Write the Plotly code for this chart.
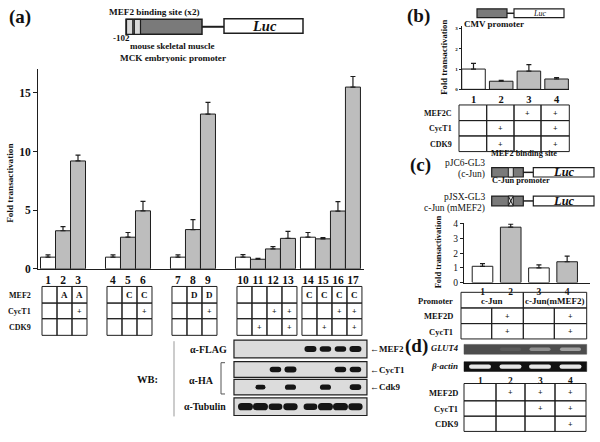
import plotly.graph_objects as go

W, H = 600, 442
FONT = "Liberation Serif"

# ---------------- data ----------------
lanes_a = [str(i) for i in range(1, 18)]
group_sizes_a = [3, 3, 3, 4, 4]
fold_a = [1.0, 3.25, 9.2, 1.0, 2.7, 4.95, 1.0, 3.35, 13.2, 1.0, 0.82, 1.7, 2.6, 2.7, 2.56, 4.93, 15.5]
err_a = [0.2, 0.35, 0.5, 0.2, 0.4, 0.8, 0.2, 0.85, 1.0, 0.22, 0.08, 0.2, 0.6, 0.4, 0.1, 0.8, 0.9]
mef2_a = ["", "A", "A", "", "C", "C", "", "D", "D", "", "", "", "", "C", "C", "C", "C"]
cyct1_a = ["", "", "+", "", "", "+", "", "", "+", "", "", "+", "+", "", "", "+", "+"]
cdk9_a = ["", "", "", "", "", "", "", "", "", "", "+", "", "+", "", "+", "", "+"]
rows_a = ["MEF2", "CycT1", "CDK9"]
ticks_a = [0, 5, 10, 15]

# western blot (lanes 10-17)
wb_labels = ["α-FLAG", "α-HA", "α-Tubulin"]
wb_targets = ["MEF2", "CycT1", "Cdk9"]
wb_flag = [0, 0, 0, 0, 1.0, 0.9, 0.9, 1.0]
wb_cyct1 = [0, 0, 0.9, 1.0, 0, 0, 0.9, 0.9]
wb_cdk9 = [0, 0.6, 0, 0.8, 0, 0.8, 0, 0.9]
wb_tub = [1.0, 1.0, 0.8, 0.9, 0.8, 1.0, 1.0, 0.9]

lanes_b = ["1", "2", "3", "4"]
fold_b = [1.0, 0.4, 0.9, 0.51]
err_b = [0.28, 0.04, 0.32, 0.07]
rows_b = ["MEF2C", "CycT1", "CDK9"]
mef2c_b = ["", "", "+", "+"]
cyct1_b = ["", "+", "", "+"]
cdk9_b = ["", "+", "", "+"]
ticks_b = [0, 1, 2, 3]

lanes_c = ["1", "2", "3", "4"]
fold_c = [1.11, 3.78, 1.0, 1.42]
err_c = [0.18, 0.2, 0.2, 0.38]
rows_c = ["Promoter", "MEF2D", "CycT1"]
promoter_c = ["c-Jun", "c-Jun(mMEF2)"]
mef2d_c = ["", "+", "", "+"]
cyct1_c = ["", "+", "", "+"]
ticks_c = [0, 1, 2, 3, 4]

lanes_d = ["1", "2", "3", "4"]
glut4_d = [0.0, 0.12, 0.55, 0.7]
actin_d = [1.0, 1.0, 1.0, 1.0]
rows_d = ["MEF2D", "CycT1", "CDK9"]
mef2d_d = ["", "+", "+", "+"]
cyct1_d = ["", "", "+", "+"]
cdk9_d = ["", "", "", "+"]

# ---------------- helpers ----------------
def X(px):
    return px / W


def Y(py):
    return 1 - py / H


shapes = []
anns = []
INK = "#1e1e1e"
GRAY = "#bdbdbd"


def rect(x0, y0, x1, y1, fill="rgba(0,0,0,0)", line=INK, lw=1):
    shapes.append(dict(type="rect", xref="paper", yref="paper", x0=X(x0), x1=X(x1),
                       y0=Y(y1), y1=Y(y0), fillcolor=fill, line=dict(color=line, width=lw)))


def seg(x0, y0, x1, y1, color=INK, lw=1):
    shapes.append(dict(type="line", xref="paper", yref="paper", x0=X(x0), x1=X(x1),
                       y0=Y(y0), y1=Y(y1), line=dict(color=color, width=lw)))


def rrect(cx, cy, w, h, color):
    x0, x1, y0, y1 = cx - w / 2, cx + w / 2, cy - h / 2, cy + h / 2
    r = min(h / 2, w / 2)
    pts = [("M", [(x0 + r, y0)]), ("L", [(x1 - r, y0)]), ("Q", [(x1, y0), (x1, y0 + r)]),
           ("L", [(x1, y1 - r)]), ("Q", [(x1, y1), (x1 - r, y1)]), ("L", [(x0 + r, y1)]),
           ("Q", [(x0, y1), (x0, y1 - r)]), ("L", [(x0, y0 + r)]), ("Q", [(x0, y0), (x0 + r, y0)])]
    p = ""
    for cmd, ps in pts:
        p += cmd + " " + " ".join(f"{X(a):.5f},{Y(b):.5f}" for a, b in ps) + " "
    p += "Z"
    shapes.append(dict(type="path", xref="paper", yref="paper", path=p, fillcolor=color,
                       line=dict(width=0)))


def text(x, y, s, size=8, bold=True, italic=False, xanchor="center", angle=0, color="#111"):
    anns.append(dict(x=X(x), y=Y(y), xref="paper", yref="paper", text=s, showarrow=False,
                     xanchor=xanchor, yanchor="middle", textangle=angle,
                     font=dict(family=FONT, size=size, color=color,
                               weight="bold" if bold else "normal",
                               style="italic" if italic else "normal")))


def table(col_edges, row_edges, cells, lw=1, size=8.5):
    for r in range(len(row_edges) - 1):
        for c in range(len(col_edges) - 1):
            rect(col_edges[c], row_edges[r], col_edges[c + 1], row_edges[r + 1], lw=lw)
            s = cells[r][c]
            if s:
                text((col_edges[c] + col_edges[c + 1]) / 2, (row_edges[r] + row_edges[r + 1]) / 2 + 0.5, s,
                     size=size if s != "+" else 8)


# ---------------- panel (a) positions ----------------
extra_gap = [4 / 3, 4 / 3, 4 / 3, 1 / 3]
pos_a = []
cur = 0.0
for gi, n in enumerate(group_sizes_a):
    for k in range(n):
        pos_a.append(cur)
        cur += 1
    if gi < len(extra_gap):
        cur += extra_gap[gi]
first_in_group = []
for n in group_sizes_a:
    first_in_group += [True] + [False] * (n - 1)

DOM_A = (38, 364)
RNG_A = (-0.667, 21.07)


def px_a(p):
    return DOM_A[0] + (p - RNG_A[0]) / (RNG_A[1] - RNG_A[0]) * (DOM_A[1] - DOM_A[0])


DOM_B = (461.7, 569)
RNG_B = (0.574, 4.448)
DOM_C = (464, 590)
RNG_C = (0.344, 4.81)

fig = go.Figure()
err_style = dict(type="data", symmetric=False, color=INK, thickness=1.2, width=2.5)

fig.add_trace(go.Bar(
    x=pos_a, y=fold_a, width=1.0,
    marker=dict(color=["white" if f else GRAY for f in first_in_group], line=dict(color=INK, width=1)),
    error_y=dict(array=err_a, arrayminus=[0] * len(err_a), **err_style),
    xaxis="x", yaxis="y"))

fig.add_trace(go.Bar(
    x=[1, 2, 3, 4], y=fold_b, width=0.85,
    marker=dict(color=["white", GRAY, GRAY, GRAY], line=dict(color=INK, width=1)),
    error_y=dict(array=err_b, arrayminus=[0] * 4, **err_style),
    xaxis="x2", yaxis="y2"))

fig.add_trace(go.Bar(
    x=[1, 2, 3, 4], y=fold_c, width=0.73,
    marker=dict(color=["white", GRAY, "white", GRAY], line=dict(color=INK, width=1)),
    error_y=dict(array=err_c, arrayminus=[0] * 4, **err_style),
    xaxis="x3", yaxis="y3"))

bold_font = lambda s: dict(family=FONT, size=s, color="#111", weight="bold")
axline = dict(showline=True, linecolor=INK, linewidth=1, showgrid=False, zeroline=False, fixedrange=True)

# ---------------- panel (a) decorations ----------------
text(20, 13, "(a)", size=19)
text(154, 8, "MEF2 binding site (x2)", size=9.2)
rect(126, 15.7, 202, 31, fill="#7a7a7a", lw=1.5)
rect(126.5, 15.7, 132.8, 31, fill="#d9d9d9", lw=1.2)
rect(134.3, 15.7, 140.5, 31, fill="#d9d9d9", lw=1.2)
seg(202, 23.3, 224, 23.3, lw=2)
rect(224, 15, 303, 30, fill="white", lw=1.5)
text(264, 22.5, "Luc", size=14.5, italic=True)
text(121, 34.5, "-102", size=9)
text(172, 43, "mouse skeletal muscle", size=9)
text(173, 55, "MCK embryonic promoter", size=9.2)
text(10, 184, "Fold transactivation", size=9.2, angle=-90)

rowy_a = [289, 306, 322, 339]
for i, p in enumerate(pos_a):
    c = px_a(p) + 1.5
    col = [c - 7.5, c + 7.5]
    table(col, rowy_a, [[mef2_a[i]], [cyct1_a[i]], [cdk9_a[i]]], size=9)
for r, lab in enumerate(rows_a):
    text(33, (rowy_a[r] + rowy_a[r + 1]) / 2 + 0.5, lab, size=8, xanchor="right")

# western blot
blot_x0, blot_x1 = px_a(pos_a[9]) - 9, px_a(pos_a[16]) + 14
boxes = [(344, 362), (366, 382), (384, 400), (403, 421)]
for (y0, y1) in boxes:
    rect(blot_x0, y0, blot_x1, y1, fill="#dcdcdc", lw=1.2)
for row, vals in enumerate([wb_flag, wb_cyct1, wb_cdk9, wb_tub]):
    y0, y1 = boxes[row]
    cy = (y0 + y1) / 2
    for j, v in enumerate(vals):
        if v > 0:
            cx = px_a(pos_a[9 + j]) + 2.5
            big = 1.25 if row == 3 else 1.0
            rrect(cx, cy, (7 + 5 * v) * big, (3 + 3 * v) * big, "#151515")
text(229, 354, wb_labels[0], size=10, xanchor="right")
text(201, 385, wb_labels[1], size=10)
text(228, 412, wb_labels[2], size=9.8, xanchor="right")
seg(221, 367, 221, 399, color="#555")
seg(221, 367, 225, 367, color="#555")
seg(221, 399, 225, 399, color="#555")
text(147, 384, "WB:", size=10.5)
seg(174, 345, 174, 422, color="#999")
for k, lab in enumerate(wb_targets):
    y0, y1 = boxes[k]
    text(368, (y0 + y1) / 2, "←" + lab, size=9, xanchor="left")

# ---------------- panel (b) decorations ----------------
text(418, 12, "(b)", size=19)
rect(477, 5, 507, 14, fill="#7a7a7a", lw=1.2)
seg(507, 9.5, 514, 9.5, lw=1.5)
rect(514, 5, 564, 14, fill="white", lw=1.2)
text(539, 9.5, "Luc", size=8, italic=True, bold=False)
text(494, 20, "CMV promoter", size=9)
text(444, 55, "Fold transactivation", size=8.7, angle=-90)
colx_b = [459, 486.7, 514, 541, 569.3]
rowy_b = [103.3, 119.3, 135, 151]
table(colx_b, rowy_b, [mef2c_b, cyct1_b, cdk9_b])
for r, lab in enumerate(rows_b):
    text(454, (rowy_b[r] + rowy_b[r + 1]) / 2 + 0.5, lab, size=8, xanchor="right")

# ---------------- panel (c) decorations ----------------
text(420, 165, "(c)", size=19)
text(524, 153, "MEF2 binding site", size=8.3)
text(487, 163, "pJC6-GL3", size=9.5, bold=False, xanchor="right")
text(487, 174.5, "(c-Jun)", size=9.5, bold=False, xanchor="right")
text(490, 180.5, "C-Jun promoter", size=8.3, xanchor="left")
text(487, 197.5, "pJSX-GL3", size=9.5, bold=False, xanchor="right")
text(487, 209.5, "c-Jun (mMEF2)", size=9.5, bold=False, xanchor="right")
for (y0, y1, mut) in [(167.5, 177, False), (196.5, 206.5, True)]:
    rect(491.7, y0, 523.3, y1, fill="#7a7a7a", lw=1.2)
    rect(508.3, y0, 513.3, y1, fill="#e0e0e0", lw=1)
    if mut:
        seg(508.3, y0, 513.3, y1, lw=1)
        seg(508.3, y1, 513.3, y0, lw=1)
    seg(523.3, (y0 + y1) / 2, 533.3, (y0 + y1) / 2, lw=1.5)
    rect(533.3, y0, 594, y1, fill="white", lw=1.2)
    text(563.5, (y0 + y1) / 2, "Luc", size=12.5, italic=True)
text(438, 254, "Fold transactivation", size=8.4, angle=-90)
rowy_c = [295, 311, 327, 342.7]
colx_c = [461, 491.7, 523.3, 554.3, 586.7]
rect(colx_c[0], rowy_c[0], colx_c[2], rowy_c[1])
rect(colx_c[2], rowy_c[0], colx_c[4], rowy_c[1])
text((colx_c[0] + colx_c[2]) / 2, (rowy_c[0] + rowy_c[1]) / 2 + 0.5, promoter_c[0], size=9)
text((colx_c[2] + colx_c[4]) / 2, (rowy_c[0] + rowy_c[1]) / 2 + 0.5, promoter_c[1], size=9)
table(colx_c, rowy_c[1:], [mef2d_c, cyct1_c])
for r, lab in enumerate(rows_c):
    text(455, (rowy_c[r] + rowy_c[r + 1]) / 2 + 0.5, lab, size=8.5, xanchor="right")

# ---------------- panel (d) ----------------
text(416, 350, "(d)", size=19)
colx_d = [464, 496, 525, 555, 586]
rowy_d = [388.3, 406, 421.7, 437.3]
text(460, 352, "GLUT4", size=8.5, italic=True, xanchor="right")
text(460, 370.5, "β-actin", size=9, italic=True, xanchor="right")
rect(464, 348.3, 586.7, 358.3, fill="#4d4d4d", line="#4d4d4d", lw=0.5)
rect(464, 366, 586.7, 376, fill="#111111", line="#111111", lw=0.5)
for j in range(4):
    cx = (colx_d[j] + colx_d[j + 1]) / 2
    g = glut4_d[j]
    if g > 0:
        v = int(77 + g * 120)
        rrect(cx, 353.3, 21, 3.5, f"rgb({v},{v},{v})")
    a = actin_d[j]
    v = int(60 + a * 170)
    rrect(cx, 371, 22, 4.5, f"rgb({v},{v},{v})")
    text(cx, 385.5, lanes_d[j], size=9.5)
table(colx_d, rowy_d, [mef2d_d, cyct1_d, cdk9_d])
for r, lab in enumerate(rows_d):
    text(460, (rowy_d[r] + rowy_d[r + 1]) / 2 + 0.5, lab, size=8.5, xanchor="right")

fig.update_layout(
    width=W, height=H, margin=dict(l=0, r=0, t=0, b=0),
    paper_bgcolor="white", plot_bgcolor="white", showlegend=False,
    shapes=shapes, annotations=anns, bargap=0,
    xaxis=dict(domain=[X(DOM_A[0]), X(DOM_A[1])], range=list(RNG_A), tickvals=pos_a, ticktext=lanes_a,
               ticks="", tickfont=bold_font(11.5), **axline),
    yaxis=dict(domain=[Y(271), Y(67)], range=[0, 17], tickvals=ticks_a, ticks="outside", ticklen=4,
               tickcolor=INK, tickfont=bold_font(11.5), **axline),
    xaxis2=dict(domain=[X(DOM_B[0]), X(DOM_B[1])], range=list(RNG_B), tickvals=[1, 2, 3, 4], ticktext=lanes_b,
                ticks="", tickfont=bold_font(10.5), anchor="y2", **axline),
    yaxis2=dict(domain=[Y(87.3), Y(23)], range=[0, 3.1], tickvals=ticks_b, ticks="outside", ticklen=2,
                tickcolor=INK, tickfont=bold_font(5), anchor="x2", **axline),
    xaxis3=dict(domain=[X(DOM_C[0]), X(DOM_C[1])], range=list(RNG_C), tickvals=[1, 2, 3, 4], ticktext=lanes_c,
                ticks="", tickfont=bold_font(9.5), anchor="y3", **axline),
    yaxis3=dict(domain=[Y(285), Y(224)], range=[0, 4.07], tickvals=ticks_c, ticks="outside", ticklen=3,
                tickcolor=INK, tickfont=dict(family=FONT, size=9.5, color="#111"), anchor="x3", **axline),
)

fig.write_html("out.html", config={"displayModeBar": False, "staticPlot": True},
               post_script="document.body.style.margin='0';document.body.style.overflow='hidden';")
